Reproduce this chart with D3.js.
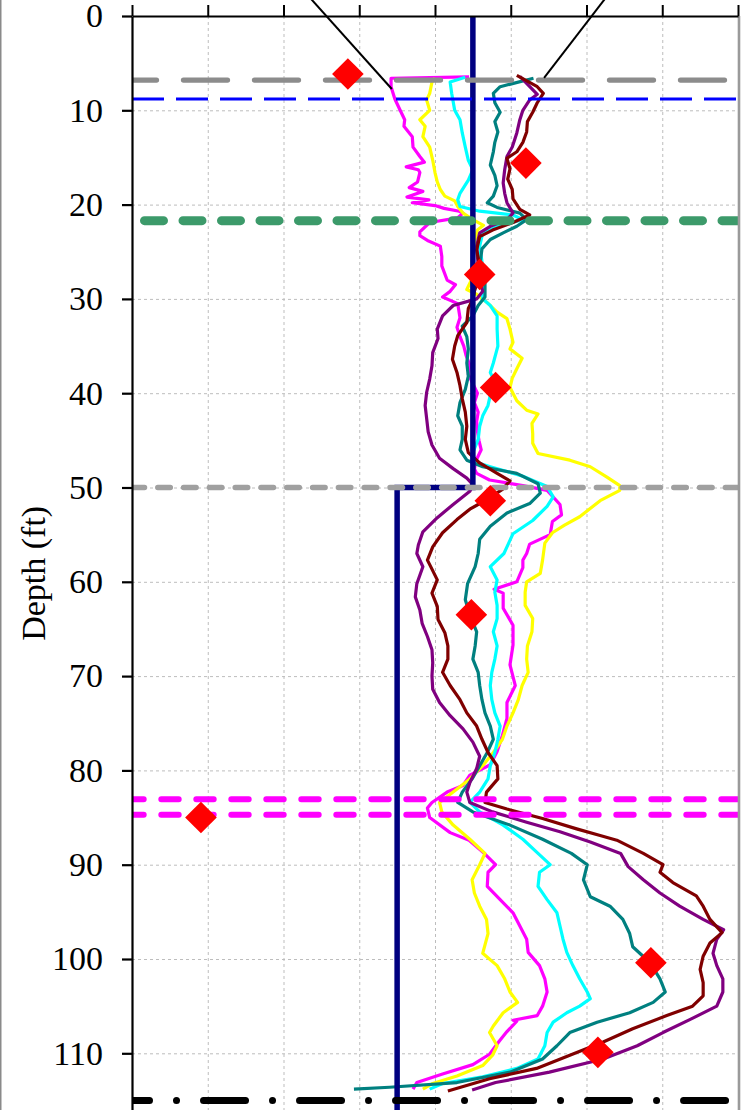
<!DOCTYPE html>
<html>
<head>
<meta charset="utf-8">
<script src="https://cdn.jsdelivr.net/npm/d3@7/dist/d3.min.js"></script>
<style>
  html, body { margin: 0; padding: 0; background: #fff; }
  svg { display: block; }
</style>
</head>
<body>
<svg id="chart" width="750" height="1110"></svg>
<script>
// ---- axis ticks ----
const depthTicks = d3.range(0, 111, 10);          // ft
const valueTicks = d3.range(0, 801, 100);

// ---- measured profiles: [depth (ft), value] ----
const magentaProfile = [[6.45,445],[6.6,342],[7.5,342],[8.8,347],[10,354],[11,360],[11.7,359],[12.8,370],[13.9,371],[14.9,380],[15.5,386],[16,362],[16.3,378],[16.6,380],[17.6,377],[18.2,366],[18.6,384],[19.2,363],[19.5,392],[19.8,370],[20.1,400],[20.4,412],[20.7,432],[20.9,437],[21.4,430],[21.9,393],[22.9,380],[23.3,380],[23.8,390],[24.4,407],[25.5,409],[26.5,409],[28,416],[28.5,427],[29.2,420],[29.8,410],[30.5,430],[32,433],[33,429],[34,433],[35,438],[36,441],[37,446],[38,444],[39,450],[40,456],[41,452],[42,457],[43,455],[44,456],[45,458],[46,461],[47,455],[48,452],[48.5,455],[49.2,472],[49.8,516],[50.3,548],[51.8,565],[52.9,567],[53.6,555],[55,552],[56,525],[57,521],[57.7,516],[58.5,516],[60,508],[60.8,478],[61.2,490],[62.8,490],[64.6,503],[66.7,503],[68.8,499],[71,506],[72.8,495],[74.5,495],[76.3,489],[78,482],[79.4,473],[80.5,446],[81.6,437],[82.3,416],[83.4,396],[84,390],[85,393],[86.6,420],[87.4,445],[88.8,465],[90,480],[90.8,470],[92.3,469],[93.7,486],[95.1,503],[96.5,512],[97.9,521],[99.3,523],[100.7,538],[102.1,545],[103.5,548],[105,542],[106,535],[106.5,503],[106.6,508],[107.7,495],[108.7,485],[110.1,472],[111.2,450],[112.2,410],[113.1,376],[113.8,371]];

const yellowProfile = [[6.6,400],[7,396],[8.2,393],[8.9,389],[10,393],[11,380],[11.7,387],[12.8,384],[13.9,393],[15.3,397],[16.6,400],[17.6,403],[18.4,407],[19.1,413],[19.6,426],[20.2,430],[20.9,437],[21.6,450],[22.2,464],[22.7,456],[24,452],[26,449],[27.5,451],[29,442],[29.5,455],[30.4,469],[31.4,482],[32.1,495],[33.2,499],[34.6,503],[35.3,499],[36.3,515],[37.4,508],[38.4,502],[39.4,499],[40.8,508],[41.8,521],[42.2,536],[43.2,528],[44.3,529],[45.3,529],[46.4,536],[47.1,578],[47.8,605],[48.9,627],[49.8,644],[50.3,644],[51.4,618],[53.1,591],[54,571],[54.8,555],[55.9,545],[57.7,542],[59.1,539],[60,521],[61.1,519],[62.5,519],[63.9,529],[65.3,528],[66.8,522],[68.2,521],[69.6,523],[71,515],[72.5,510],[73.9,503],[75.3,495],[76.7,489],[78.1,477],[79.5,463],[80.9,446],[82.3,424],[83.4,406],[84.4,409],[85.8,424],[87.3,446],[88.8,466],[90,459],[91.6,449],[93,452],[94.4,459],[95.8,468],[97.3,470],[99.4,463],[100.7,482],[102.1,492],[103.5,499],[104.6,509],[105.7,490],[107.1,477],[107.8,472],[109.2,482],[110.2,476],[111.3,463],[112.4,429],[113.2,397],[113.8,384]];

const cyanProfile = [[6.5,440],[7,420],[8.2,422],[10,426],[11,433],[12.4,436],[13.9,440],[15.3,444],[16.3,450],[17.4,444],[18.8,433],[19.5,430],[20.2,433],[20.7,459],[21.1,503],[21.6,516],[22.3,482],[23,463],[24.4,459],[26.6,463],[28.6,463],[30,463],[30.7,473],[31.8,482],[33.2,482],[35,483],[36.8,477],[37.8,473],[38.8,479],[40.2,473],[41.3,470],[42.4,463],[43.5,459],[44.9,457],[46.3,450],[47.2,449],[47.8,473],[48.8,516],[49.9,548],[51,556],[52,548],[53.5,529],[54.9,503],[56.3,495],[57,491],[58.4,473],[59.8,482],[61.1,479],[62.5,482],[63.9,482],[65.3,477],[66.8,482],[68.2,479],[69.6,475],[71,473],[72.5,475],[73.9,479],[75.3,486],[76.7,483],[78.1,479],[79.5,473],[80.9,470],[82.3,459],[83.4,446],[84.4,459],[85.8,490],[87.3,516],[88.8,536],[90,552],[90.8,538],[92.3,536],[93.7,548],[95.1,561],[96.5,565],[97.9,569],[99.3,574],[100.7,582],[102.1,591],[103.5,601],[104.2,605],[105,591],[105.7,574],[106.7,556],[107.8,548],[109.2,545],[110.6,536],[111.6,508],[112.5,463],[113.2,410],[113.8,393]];

const tealProfile = [[6.6,530],[7.5,486],[8.2,477],[9.2,479],[10.2,486],[11.2,479],[12.3,483],[13.4,479],[14.4,477],[15.8,473],[16.9,479],[18,482],[19.1,477],[19.8,469],[20.3,482],[20.9,512],[21.6,521],[22.3,508],[23,490],[23.7,473],[24.7,462],[26.5,459],[28.4,466],[29.8,466],[30.7,457],[31.8,450],[32.9,436],[34,442],[35.3,444],[36.8,442],[38.2,444],[39.6,440],[41,433],[42.4,430],[43.5,436],[44.9,436],[46,433],[47.1,442],[47.8,463],[48.5,508],[49.6,536],[50.6,539],[51.7,525],[52.7,495],[54.1,473],[55.5,459],[57,457],[58.4,453],[60.2,443],[61.9,440],[63.5,446],[65.3,455],[66.8,453],[68.2,450],[69.6,457],[71,459],[72.5,462],[73.9,466],[75.3,473],[76.7,477],[78.1,469],[79.5,459],[80.9,449],[82.3,436],[83.4,430],[84.4,450],[85.8,499],[87.3,542],[88.8,580],[90,601],[91.6,596],[93.4,605],[94.4,631],[95.8,648],[97.3,657],[98.7,661],[100.4,684],[102.1,697],[103.5,704],[104.6,688],[105.7,657],[106.7,614],[107.8,578],[109.2,561],[110.6,542],[112,499],[113.1,429],[113.6,340],[113.8,293]];

const purpleProfile = [[6.4,512],[8.3,535],[8.9,525],[10,516],[11,512],[12.4,508],[13.9,502],[14.9,495],[16.3,492],[17.7,490],[18.8,492],[19.8,495],[20.9,503],[21.6,495],[22.3,473],[23,459],[24.4,455],[26.5,457],[28,459],[29.2,463],[30,455],[30.7,424],[31.8,410],[33.2,403],[34.2,404],[35.7,397],[37.1,396],[38.5,393],[39.9,389],[41.3,387],[42.7,389],[44.1,391],[45.5,396],[46.9,406],[48,424],[49,442],[49.7,450],[50.4,446],[51.8,424],[53.2,403],[54.7,384],[56.1,378],[57,376],[58.4,384],[60.2,376],[61.6,374],[63,380],[64.4,383],[65.8,390],[67.2,396],[68.6,397],[70,396],[71.4,397],[72.8,406],[74.2,420],[75.6,437],[77,450],[78.5,459],[79.8,455],[81.3,446],[82.3,442],[83.4,446],[84.4,476],[85.5,521],[86.5,565],[87.6,605],[88.8,645],[90.2,655],[91.6,675],[93,697],[94.4,723],[95.8,754],[96.9,781],[97.9,772],[99.4,767],[100.7,772],[102.1,780],[103.5,780],[105,772],[106.4,737],[107.8,701],[109.2,667],[110.6,622],[112,551],[113.1,480],[113.9,449]];

const maroonProfile = [[6.3,508],[7.5,535],[8.2,543],[9.2,535],[10.2,529],[11.2,522],[12.3,521],[13.4,516],[14.4,508],[15.1,495],[16.2,499],[17.3,496],[18.4,502],[19.4,503],[20.5,512],[21.1,525],[21.9,503],[22.7,476],[23.4,459],[24.8,455],[26.5,459],[28,457],[29.2,452],[30,450],[31,444],[32.5,442],[33.9,430],[35,426],[36.4,423],[37.8,429],[39.2,433],[40.6,436],[42,440],[43.5,442],[44.9,440],[46.3,444],[47.4,459],[48.5,482],[49.3,499],[50.2,489],[51.3,468],[52.3,446],[53.4,429],[54.8,410],[56.3,397],[57.7,390],[58.5,395],[59.8,403],[61.2,396],[62.6,403],[64,404],[65.4,413],[66.8,417],[68.2,417],[69.6,410],[71,420],[72.5,433],[73.9,442],[75.3,455],[76.7,462],[78.1,470],[79.5,482],[80.9,483],[82.3,468],[83.4,466],[84.1,495],[85.1,542],[86.2,587],[86.9,618],[87.4,640],[88.8,675],[90,701],[90.8,697],[91.9,714],[93.3,745],[94.4,754],[95.8,763],[97.2,779],[98.3,763],[99.7,754],[101.1,750],[102.5,754],[103.9,754],[105,740],[106,706],[107.4,661],[108.8,622],[110.2,578],[111.6,534],[112.7,472],[114,417]];

// ---- stepped design profile ----
const designDepth = [0, 50, 50, 116];
const designValue = [450, 450, 350, 350];

// ---- point measurements ----
const pointDepth = [6.15, 15.6, 27.4, 39.4, 51.4, 63.5, 85.0, 100.4, 109.9];
const pointValue = [285, 520, 459, 480, 473, 448, 91, 685, 615];

// ---- horizon depths (ft) ----
const horizonDepth = [6.8, 8.8, 21.7, 50, 83.05, 84.7, 115];

// ---- callout leader lines: [value, depth] pairs ----
const leaderStart = [[232, -2.2], [628, -2.2]];
const leaderEnd = [[343, 7.74], [544, 6.57]];

// ---------------------------------------------------------------
const W = 750, H = 1110;
const x = d3.scaleLinear().domain([0, 800]).range([132, 738]);
const y = d3.scaleLinear().domain([0, 116]).range([16, 16 + 116 * 9.43]);
const serif = "'Liberation Serif', 'Times New Roman', Times, serif";

const svg = d3.select("#chart");

// outer frame edge on the left
svg.append("line")
  .attr("x1", 0.75).attr("x2", 0.75).attr("y1", 0).attr("y2", H)
  .attr("stroke", "#8a8a8a").attr("stroke-width", 1.5);

svg.append("defs").append("clipPath").attr("id", "plotClip")
  .append("rect")
  .attr("x", x(0)).attr("y", y(0))
  .attr("width", x(800) - x(0)).attr("height", H - y(0));

// grid
const grid = svg.append("g").attr("stroke", "#bdbdbd").attr("stroke-width", 1)
  .attr("stroke-dasharray", "3,3");
grid.selectAll("line.v").data(valueTicks.filter(v => v > 0 && v < 800)).join("line")
  .attr("class", "v")
  .attr("x1", d => x(d) + 0.5).attr("x2", d => x(d) + 0.5)
  .attr("y1", y(0)).attr("y2", H);
grid.selectAll("line.h").data(depthTicks.filter(d => d > 0)).join("line")
  .attr("class", "h")
  .attr("x1", x(0)).attr("x2", x(800))
  .attr("y1", d => y(d) + 0.5).attr("y2", d => y(d) + 0.5);

const plot = svg.append("g").attr("clip-path", "url(#plotClip)");

// profiles
const profiles = [
  { data: magentaProfile, color: "#ff00ff" },
  { data: yellowProfile,  color: "#ffff00" },
  { data: cyanProfile,    color: "#00ffff" },
  { data: tealProfile,    color: "#008080" },
  { data: purpleProfile,  color: "#800080" },
  { data: maroonProfile,  color: "#800000" }
];
const profileLine = d3.line().x(d => x(d[1])).y(d => y(d[0]));
plot.selectAll("path.profile").data(profiles).join("path")
  .attr("class", "profile")
  .attr("d", d => profileLine(d.data))
  .attr("fill", "none")
  .attr("stroke", d => d.color)
  .attr("stroke-width", 3.2)
  .attr("stroke-linejoin", "round");

// stepped design line
const design = designDepth.map((d, i) => [d, designValue[i]]);
plot.append("path")
  .attr("d", profileLine(design))
  .attr("fill", "none")
  .attr("stroke", "#000080")
  .attr("stroke-width", 5.5);

// horizon lines
const horizonStyle = [
  { color: "#8c8c8c", width: 5.3, dash: "44,27",          offset: 19.5, cap: "round" },
  { color: "#0000ff", width: 3,   dash: "32,12",          offset: 0,    cap: "butt"  },
  { color: "#3c9a6a", width: 9,   dash: "19,19.5",        offset: 26,   cap: "round" },
  { color: "#a0a0a0", width: 5.5, dash: "12.5,13.3",      offset: 0,    cap: "round" },
  { color: "#ff00ff", width: 6,   dash: "17.4,17.6",      offset: 5.7,  cap: "round" },
  { color: "#ff00ff", width: 6,   dash: "17.4,17.6",      offset: 5.7,  cap: "round" },
  { color: "#000000", width: 7,   dash: "42,27,0.01,27",  offset: 24.5, cap: "round" }
];
plot.selectAll("line.horizon").data(horizonDepth).join("line")
  .attr("class", "horizon")
  .attr("x1", x(0)).attr("x2", x(800))
  .attr("y1", d => y(d)).attr("y2", d => y(d))
  .attr("stroke", (d, i) => horizonStyle[i].color)
  .attr("stroke-width", (d, i) => horizonStyle[i].width)
  .attr("stroke-dasharray", (d, i) => horizonStyle[i].dash)
  .attr("stroke-dashoffset", (d, i) => horizonStyle[i].offset)
  .attr("stroke-linecap", (d, i) => horizonStyle[i].cap);

// point measurements (red diamonds)
const diamond = d3.symbol().type(d3.symbolSquare).size(500);
plot.selectAll("path.point").data(pointDepth).join("path")
  .attr("class", "point")
  .attr("d", diamond)
  .attr("transform", (d, i) => `translate(${x(pointValue[i])},${y(d)}) rotate(45)`)
  .attr("fill", "#ff0000");

// right border of the plot area
svg.append("line")
  .attr("x1", x(800) + 1).attr("x2", x(800) + 1)
  .attr("y1", y(0)).attr("y2", H)
  .attr("stroke", "#9a9a9a").attr("stroke-width", 2.6);

// top axis (ticks only)
const topAxis = svg.append("g").attr("transform", `translate(0,${y(0)})`)
  .call(d3.axisTop(x).tickValues(valueTicks).tickSize(11).tickSizeOuter(0).tickFormat(""));
topAxis.selectAll("path, line").attr("stroke", "#000").attr("stroke-width", 2);

// left depth axis
const leftAxis = svg.append("g").attr("transform", `translate(${x(0)},0)`)
  .call(d3.axisLeft(y).tickValues(depthTicks).tickSize(10).tickSizeOuter(0).tickPadding(19));
leftAxis.selectAll("path, line").attr("stroke", "#000").attr("stroke-width", 2.2);
leftAxis.selectAll("text")
  .attr("fill", "#000")
  .style("font-family", serif)
  .style("font-size", "34px");

svg.append("text")
  .attr("transform", `translate(45,${y(59.1)}) rotate(-90)`)
  .attr("text-anchor", "middle")
  .style("font-family", serif)
  .style("font-size", "34px")
  .attr("fill", "#000")
  .text("Depth (ft)");

// callout leader lines
svg.selectAll("line.leader").data(leaderStart).join("line")
  .attr("class", "leader")
  .attr("x1", d => x(d[0])).attr("y1", d => y(d[1]))
  .attr("x2", (d, i) => x(leaderEnd[i][0])).attr("y2", (d, i) => y(leaderEnd[i][1]))
  .attr("stroke", "#000").attr("stroke-width", 2);
</script>
</body>
</html>
